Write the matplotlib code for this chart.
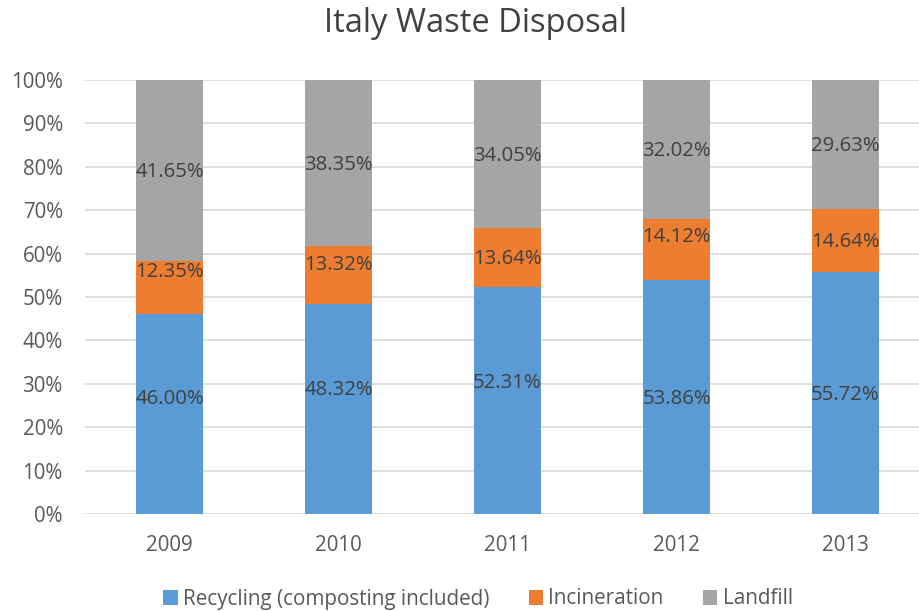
import matplotlib.pyplot as plt
import numpy as np
from matplotlib.ticker import PercentFormatter

plt.rcParams['font.family'] = ['Open Sans', 'DejaVu Sans']

years = ["2009", "2010", "2011", "2012", "2013"]
recycling = [46.00, 48.32, 52.31, 53.86, 55.72]
incineration = [12.35, 13.32, 13.64, 14.12, 14.64]
landfill = [41.65, 38.35, 34.05, 32.02, 29.63]

series = [
    ("Recycling (composting included)", recycling, "#5B9BD5"),
    ("Incineration", incineration, "#ED7D31"),
    ("Landfill", landfill, "#A5A5A5"),
]

# label nudges (pixels, upward) for the value tags
nudges = [
    [17, 21, 19, 0, 0],
    [18, 12, 0, 15, 0],
    [0, 0, 0, 0, 0],
]

fig = plt.figure(figsize=(9.2, 6.11), dpi=100)
ax = fig.add_axes([85 / 920, 97 / 611, 845 / 920, 434 / 611])

x = np.arange(len(years))
bottom = np.zeros(len(years))
for (name, vals, color), nud in zip(series, nudges):
    vals = np.array(vals)
    ax.bar(x, vals, 0.40, bottom=bottom, color=color, label=name, zorder=2)
    for xi, b, v, dy in zip(x, bottom, vals, nud):
        ax.annotate(f"{v:.2f}%", (xi, b + v / 2), xytext=(0, dy - 2),
                    textcoords="offset pixels", ha="center", va="center",
                    fontsize=14.7, color="#404040", zorder=3)
    bottom += vals

ax.set_xlim(-0.5, 4.5)
ax.set_ylim(0, 100)
ax.set_yticks(np.arange(0, 101, 10))
ax.yaxis.set_major_formatter(PercentFormatter(decimals=0))
ax.set_xticks(x)
ax.set_xticklabels(years)
ax.tick_params(axis="both", length=0, labelsize=14.8, colors="#595959")
ax.tick_params(axis="y", pad=16)
ax.tick_params(axis="x", pad=15)
ax.grid(axis="y", color="#D9D9D9", linewidth=1.2, zorder=0)
for s in ax.spines.values():
    s.set_visible(False)

fig.suptitle("Italy Waste Disposal", x=476 / 920, y=1 - 24 / 611, va="center",
             fontsize=23.5, color="#404040")

fig.legend(loc="center", bbox_to_anchor=(478 / 920, 1 - 599 / 611), ncol=3,
           frameon=False, fontsize=14.9, handlelength=0.7, handleheight=0.7,
           handletextpad=0.25, columnspacing=1.9, labelcolor="#595959")

fig.savefig("out.png", dpi=100)
